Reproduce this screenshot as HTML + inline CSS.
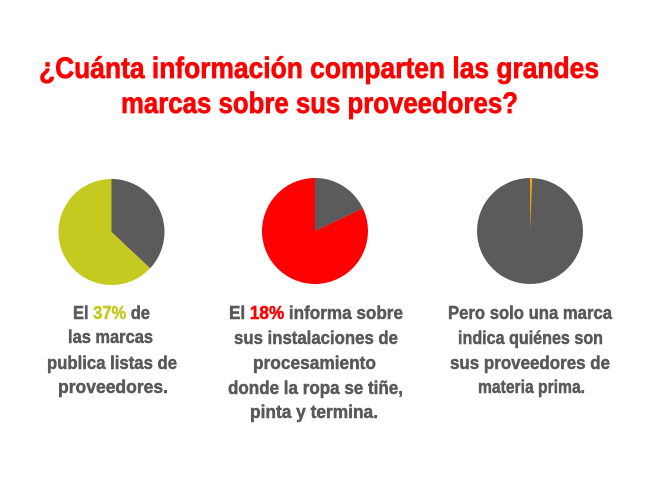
<!DOCTYPE html>
<html><head><meta charset="utf-8"><style>
html,body{margin:0;padding:0;background:#fff;}
svg{display:block;}
text{font-family:"Liberation Sans",Arial,sans-serif;font-weight:bold;}
</style></head><body>
<svg width="650" height="477" viewBox="0 0 650 477" xmlns="http://www.w3.org/2000/svg">
<rect width="650" height="477" fill="#fff"/>
<g fill="#ff0000" stroke="#ff0000" stroke-width="0.7" font-size="30">
<text x="39" y="78" textLength="560" lengthAdjust="spacingAndGlyphs">¿Cuánta información comparten las grandes</text>
<text x="121" y="113" textLength="397" lengthAdjust="spacingAndGlyphs">marcas sobre sus proveedores?</text>
</g>
<!-- pie 1 -->
<path d="M111.5,232 L111.5,179 A53,53 0 0 1 150.1,268.3 Z" fill="#5b5b5b"/>
<path d="M111.5,232 L150.1,268.3 A53,53 0 1 1 111.5,179 Z" fill="#c5c920"/>
<!-- pie 2 -->
<path d="M315,231 L315,178 A53,53 0 0 1 362.95,208.43 Z" fill="#5b5b5b"/>
<path d="M315,231 L362.95,208.43 A53,53 0 1 1 315,178 Z" fill="#ff0000"/>
<!-- pie 3 -->
<circle cx="530" cy="231" r="53" fill="#5b5b5b"/>
<path d="M530,231 L530,178 A53,53 0 0 1 532.3,178.05 Z" fill="#f5a300"/>
<g fill="#595959" stroke="#595959" stroke-width="0.5" font-size="18">
<text x="73" y="319" textLength="77" lengthAdjust="spacingAndGlyphs">El <tspan fill="#c5c920" stroke="#c5c920">37%</tspan> de</text>
<text x="68" y="343" textLength="85" lengthAdjust="spacingAndGlyphs">las marcas</text>
<text x="47" y="369" textLength="130" lengthAdjust="spacingAndGlyphs">publica listas de</text>
<text x="58" y="393" textLength="110" lengthAdjust="spacingAndGlyphs">proveedores.</text>

<text x="229" y="319" textLength="174" lengthAdjust="spacingAndGlyphs">El <tspan fill="#ff0000" stroke="#ff0000">18%</tspan> informa sobre</text>
<text x="234" y="344" textLength="164" lengthAdjust="spacingAndGlyphs">sus instalaciones de</text>
<text x="253" y="369" textLength="123" lengthAdjust="spacingAndGlyphs">procesamiento</text>
<text x="228" y="394" textLength="175" lengthAdjust="spacingAndGlyphs">donde la ropa se tiñe,</text>
<text x="250" y="418" textLength="128" lengthAdjust="spacingAndGlyphs">pinta y termina.</text>

<text x="448" y="319" textLength="164" lengthAdjust="spacingAndGlyphs">Pero solo una marca</text>
<text x="458" y="344" textLength="145" lengthAdjust="spacingAndGlyphs">indica quiénes son</text>
<text x="450" y="369" textLength="160" lengthAdjust="spacingAndGlyphs">sus proveedores de</text>
<text x="478" y="393" textLength="107" lengthAdjust="spacingAndGlyphs">materia prima.</text>
</g>
</svg>
</body></html>
